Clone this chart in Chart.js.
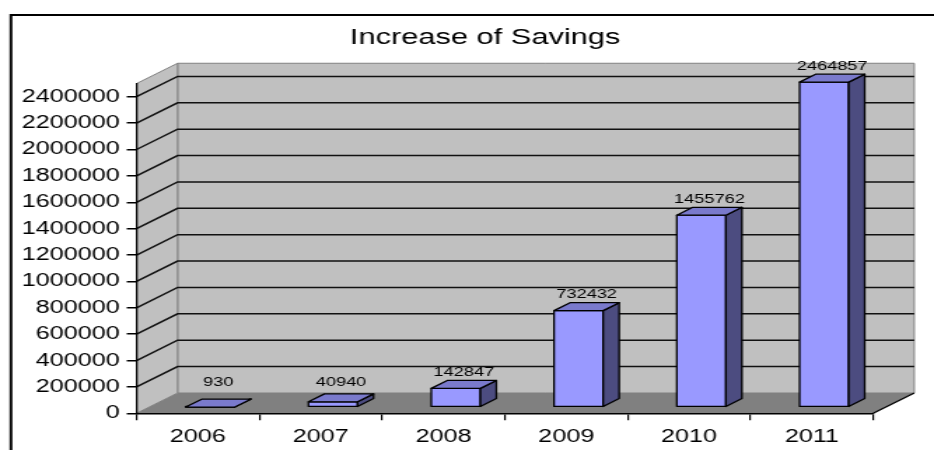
<!DOCTYPE html>
<html>
<head>
<meta charset="utf-8">
<title>Increase of Savings</title>
<script src="https://cdn.jsdelivr.net/npm/chart.js@4.4.1/dist/chart.umd.min.js"></script>
<style>
  html, body { margin: 0; padding: 0; background: #fff; overflow: hidden; }
  /* the chart is laid out narrow and stretched sideways, like the old Excel export */
  #wrap { width: 667px; height: 450px; transform: scaleX(1.4003); transform-origin: 0 0; }
</style>
</head>
<body>
<div id="wrap"><canvas id="savings" width="667" height="450"></canvas></div>
<script>
const years = ['2006', '2007', '2008', '2009', '2010', '2011'];
const savings = [930, 40940, 142847, 732432, 1455762, 2464857];
const yTicks = [0, 200000, 400000, 600000, 800000, 1000000, 1200000,
  1400000, 1600000, 1800000, 2000000, 2200000, 2400000];
const yMax = 2500000;
const chartTitle = 'Increase of Savings';

const FONT = '"Liberation Sans", Arial, sans-serif';
const WALL = '#c0c0c0';
const WALL_EDGE = '#808080';
const FLOOR = '#808080';
const BAR_FRONT = '#9999ff';
const BAR_TOP = '#7a7acc';
const BAR_SIDE = '#4c4c80';

// depth of the 3D box (canvas px) and where the bars sit inside it
const DEPTH_X = 29.3;
const DEPTH_Y = 20.3;
const BAR_FRONT_AT = 0.3;
const BAR_DEPTH = 0.39;

Chart.defaults.font.family = FONT;
Chart.defaults.color = '#000';

function poly(ctx, pts, fill, stroke, lw) {
  ctx.beginPath();
  ctx.moveTo(pts[0][0], pts[0][1]);
  for (let i = 1; i < pts.length; i++) ctx.lineTo(pts[i][0], pts[i][1]);
  ctx.closePath();
  if (fill) { ctx.fillStyle = fill; ctx.fill(); }
  if (stroke) { ctx.strokeStyle = stroke; ctx.lineWidth = lw || 1; ctx.stroke(); }
}

const box3d = {
  id: 'box3d',
  beforeDraw(chart) {
    const ctx = chart.ctx;
    const { left: L, right: R, top: T, bottom: B } = chart.chartArea;
    const yScale = chart.scales.y;
    ctx.save();

    // outer frame
    ctx.strokeStyle = '#000';
    ctx.lineWidth = 2;
    ctx.beginPath();
    ctx.moveTo(7.8, chart.height + 2);
    ctx.lineTo(7.8, 15);
    ctx.lineTo(chart.width + 2, 15);
    ctx.stroke();

    // title
    ctx.fillStyle = '#000';
    ctx.font = '22px ' + FONT;
    ctx.textAlign = 'center';
    ctx.textBaseline = 'alphabetic';
    ctx.fillText(chartTitle, 346.4, 44);

    // walls and floor
    poly(ctx, [[L + DEPTH_X, T - DEPTH_Y], [R + DEPTH_X, T - DEPTH_Y], [R + DEPTH_X, B - DEPTH_Y], [L + DEPTH_X, B - DEPTH_Y]], WALL, WALL_EDGE, 1);
    poly(ctx, [[L, T], [L + DEPTH_X, T - DEPTH_Y], [L + DEPTH_X, B - DEPTH_Y], [L, B]], WALL, WALL_EDGE, 1);
    poly(ctx, [[L, B], [L + DEPTH_X, B - DEPTH_Y], [R + DEPTH_X, B - DEPTH_Y], [R, B]], FLOOR, null);
    ctx.strokeStyle = '#000';
    ctx.lineWidth = 1.3;
    ctx.beginPath();
    ctx.moveTo(R, B);
    ctx.lineTo(R + DEPTH_X, B - DEPTH_Y);
    ctx.stroke();

    // gridlines across the side and back walls
    ctx.strokeStyle = '#111';
    ctx.lineWidth = 1.5;
    yScale.ticks.forEach((t) => {
      if (t.value === 0) return;
      const py = yScale.getPixelForValue(t.value);
      ctx.beginPath();
      ctx.moveTo(L, py);
      ctx.lineTo(L + DEPTH_X, py - DEPTH_Y);
      ctx.lineTo(R + DEPTH_X, py - DEPTH_Y);
      ctx.stroke();
    });
    ctx.restore();
  },
  afterDatasetsDraw(chart) {
    const ctx = chart.ctx;
    const meta = chart.getDatasetMeta(0);
    const floorBack = chart.chartArea.bottom - DEPTH_Y;
    const fx = DEPTH_X * BAR_FRONT_AT, fy = DEPTH_Y * BAR_FRONT_AT;
    const bx = DEPTH_X * BAR_DEPTH, by = DEPTH_Y * BAR_DEPTH;
    ctx.save();
    ctx.lineJoin = 'round';
    meta.data.forEach((el, i) => {
      const { x, y, base, width } = el.getProps(['x', 'y', 'base', 'width'], true);
      const x1 = x - width / 2 + fx, x2 = x + width / 2 + fx;
      const yt = y - fy, yb = base - fy;
      poly(ctx, [[x1, yt], [x2, yt], [x2, yb], [x1, yb]], BAR_FRONT, '#000', 1.3);
      poly(ctx, [[x2, yt], [x2 + bx, yt - by], [x2 + bx, yb - by], [x2, yb]], BAR_SIDE, '#000', 1.3);
      poly(ctx, [[x1, yt], [x1 + bx, yt - by], [x2 + bx, yt - by], [x2, yt]], BAR_TOP, '#000', 1.3);

      // value label over the top face, kept clear of the floor
      const ly = Math.min(yt - by - 8, floorBack - 11);
      ctx.fillStyle = '#000';
      ctx.font = '13px ' + FONT;
      ctx.textAlign = 'center';
      ctx.textBaseline = 'middle';
      ctx.fillText(String(savings[i]), (x1 + x2) / 2 + bx / 2, ly);
    });
    ctx.restore();
  },
};

new Chart(document.getElementById('savings'), {
  type: 'bar',
  data: {
    labels: years,
    datasets: [{
      data: savings,
      backgroundColor: 'rgba(0,0,0,0)',
      borderWidth: 0,
      barPercentage: 0.4,
      categoryPercentage: 1,
    }],
  },
  options: {
    responsive: false,
    animation: false,
    devicePixelRatio: 1,
    layout: { padding: { top: 83.55, left: 0, right: 43.4, bottom: 0 } },
    plugins: {
      legend: { display: false },
      tooltip: { enabled: false },
      title: { display: false },
    },
    scales: {
      x: {
        ticks: { color: '#000', font: { size: 18 }, padding: 6, maxRotation: 0, autoSkip: false },
        grid: { drawOnChartArea: false, offset: true, tickLength: 7, color: '#000', lineWidth: 1.2 },
        border: { color: '#000', width: 1.5 },
        afterFit: (s) => { s.height = 450 - 413.3; },
      },
      y: {
        min: 0,
        max: yMax,
        afterBuildTicks: (s) => { s.ticks = yTicks.map((v) => ({ value: v })); },
        ticks: {
          padding: 5,
          autoSkip: false,
          color: '#000',
          font: { size: 18 },
          callback: (v) => String(v),
        },
        grid: { drawOnChartArea: false, tickLength: 7, color: '#000', lineWidth: 1.5 },
        border: { color: '#000', width: 1.3 },
        afterFit: (s) => { s.width = 97.5; },
      },
    },
  },
  plugins: [box3d],
});
</script>
</body>
</html>
